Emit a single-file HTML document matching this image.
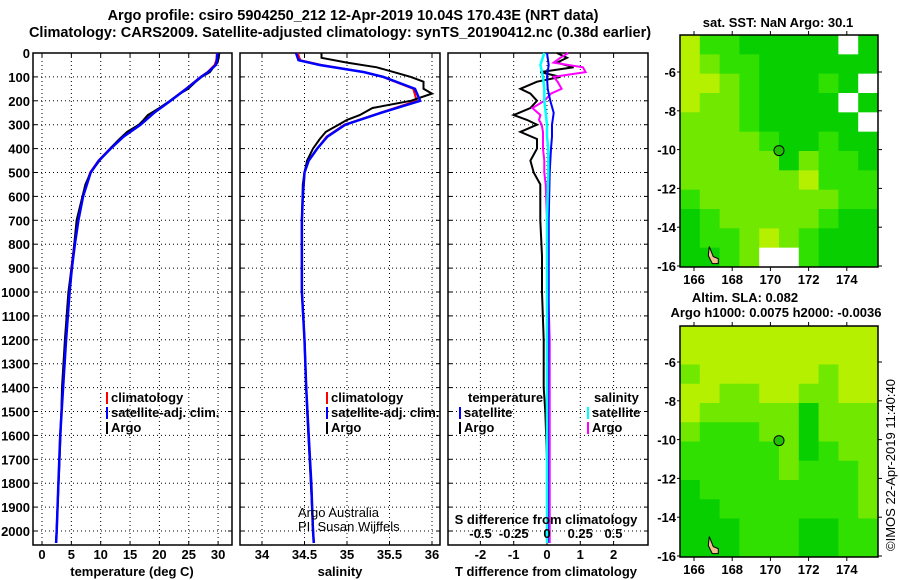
<!DOCTYPE html>
<html><head><meta charset="utf-8">
<style>
html,body{margin:0;padding:0;background:#fff;}
svg{display:block;font-family:"Liberation Sans",Arial,sans-serif;}
.t{font-weight:bold;font-size:14.5px;fill:#000;}
.s{font-weight:bold;font-size:13px;fill:#000;}
</style></head>
<body>
<svg id="fig" width="900" height="580" viewBox="0 0 900 580"></svg>
<script>
// ---------- data ----------
const depthTicks=[0,100,200,300,400,500,600,700,800,900,1000,1100,1200,1300,1400,1500,1600,1700,1800,1900,2000];
const tempTicks=[0,5,10,15,20,25,30];
const salTicks=[34,34.5,35,35.5,36];
const tdiffTicks=[-2,-1,0,1,2];
const sdiffTicks=["-0.5","-0.25","0","0.25","0.5"];
const sdiffTickVals=[-0.5,-0.25,0,0.25,0.5];
const lonTicks=[166,168,170,172,174];
const latTicks=[-6,-8,-10,-12,-14,-16];

const climDepth=[0,30,50,80,100,150,200,250,300,350,400,450,500,600,700,800,900,1000,1200,1400,1600,1800,2000,2050];
const climTemp=[29.8,29.7,29.4,28.2,27,24.5,21.8,19,16.7,13.8,11.6,9.6,8.2,6.9,6.1,5.5,5.0,4.6,4.0,3.5,3.1,2.8,2.5,2.4];
const climSal=[34.42,34.45,34.7,35.2,35.42,35.78,35.82,35.39,34.97,34.76,34.65,34.55,34.5,34.48,34.47,34.47,34.47,34.47,34.5,34.52,34.55,34.58,34.6,34.61];
const satTemp=[29.9,29.8,29.6,28.3,27.1,24.6,21.9,19.1,16.8,13.9,11.7,9.7,8.3,7.0,6.2,5.6,5.1,4.7,4.1,3.6,3.1,2.8,2.5,2.4];
const satSal=[34.4,34.43,34.68,35.2,35.43,35.8,35.86,35.4,34.98,34.77,34.65,34.55,34.5,34.48,34.47,34.47,34.47,34.47,34.5,34.52,34.55,34.58,34.6,34.61];

const argoDepth=[0,20,40,60,80,100,120,150,170,200,230,260,280,300,330,360,400,450,500,550,700,850,1000,1200,1400,1500,1700,2050];
const argoTemp=[30.2,30.1,29.9,29.2,28.6,27.2,26.2,24.9,23.5,21.8,20,18,17.3,16.5,14.5,13.2,11.6,9.8,8.3,7.4,5.9,5.3,4.5,3.9,3.4,3.3,3.0,2.4];
const argoSal=[34.7,34.7,35.0,35.35,35.55,35.75,35.9,35.9,36.0,35.75,35.3,35.15,35.0,34.9,34.75,34.68,34.6,34.53,34.5,34.48,34.47,34.47,34.47,34.5,34.52,34.53,34.56,34.61];
const argoTdiff=[0.3,0.6,0.3,0.8,-0.2,0.4,-0.3,-0.8,-0.5,-0.3,-0.5,-1.0,-0.6,-0.3,-0.8,-0.3,-0.3,-0.5,-0.4,-0.2,-0.2,-0.15,-0.15,-0.1,-0.1,-0.05,0,0];
const argoSdiff=[0.16,0.1,0.05,0.27,0.29,0.05,0.08,0.11,0.03,-0.02,-0.11,-0.05,-0.06,-0.04,-0.03,-0.03,-0.03,-0.02,-0.02,-0.01,0.0,0.01,0.01,0.02,0.02,0.02,0.02,0.02];
const satTdiffDepth=[0,50,100,150,200,250,300,350,400,500,700,1000,1500,2050];
const satTdiff=[0.0,0.05,0.0,0.02,0.1,0.2,0.15,0.15,0.12,0.08,0.05,0.05,0.03,0.03];
const satSdiff=[-0.02,-0.05,-0.03,-0.02,-0.02,-0.01,0.0,0.0,0.01,0.01,0.0,0.0,0.0,0.0];

// map colour grids (rows north->south)
const sstGrid=["YggGGGGGWG","YLggGGGGGG","YYLgGGGgGW","YLLgGGGGWG","LLLgGGGGGW","LLLLgGGgGG","LLLLLGLggG","LLLLLLYggg","gLLLLLLLgg","GgLLLLLgGG","GggLYLgGGG","GGgLWWgGGG"];
const slaGrid=["YYYYYYYYYY","YYYYYYYYYY","LYYYYYYLYY","YYLLYYLLYY","YLLLLLGLLL","LgggLLGLLL","gggggLGgLL","gggggLgggL","GggggggggL","GGgggggggL","GGGgggGGgg","GGGgggGGgg"];
const palette={G:"#08d000",g:"#30e000",L:"#70e800",Y:"#b4f000",W:"#ffffff"};
const argoLon=170.45, argoLat=-10.05;

// ---------- helpers ----------
const NS="http://www.w3.org/2000/svg";
const svg=document.getElementById('fig');
function mk(tag,attrs,parent){const e=document.createElementNS(NS,tag);for(const k in attrs)e.setAttribute(k,attrs[k]);(parent||svg).appendChild(e);return e;}
function txt(x,y,s,cls,anchor,parent){const e=mk('text',{x:x,y:y,class:cls,'text-anchor':anchor||'middle'},parent);e.textContent=s;return e;}

const Y0=53, PY=0.239, PBOT=545;
const yD=d=>Y0+d*PY;
const xT=v=>42+v*5.87;
const xS=v=>262+(v-34)*85;
const xTd=v=>547+v*33.3;
const xSd=v=>547+v*133;

function panel(x0,x1,name,xticks,xf){
  const g=mk('g',{});
  
  
  depthTicks.forEach(d=>{if(d>0)mk('line',{x1:x0,x2:x1,y1:yD(d),y2:yD(d),stroke:'#000','stroke-width':1,'stroke-dasharray':'1,3'},g);
    mk('line',{x1:x0,x2:x0+4,y1:yD(d),y2:yD(d),stroke:'#000'},g);mk('line',{x1:x1-4,x2:x1,y1:yD(d),y2:yD(d),stroke:'#000'},g);});
  xticks.forEach(v=>{const x=xf(v);mk('line',{x1:x,x2:x,y1:Y0,y2:PBOT,stroke:'#000','stroke-dasharray':'1,3'},g);
    mk('line',{x1:x,x2:x,y1:PBOT,y2:PBOT-4,stroke:'#000'},g);mk('line',{x1:x,x2:x,y1:Y0,y2:Y0+4,stroke:'#000'},g);});
  mk('rect',{x:x0,y:Y0,width:x1-x0,height:PBOT-Y0,fill:'none',stroke:'#000','stroke-width':1.5},g);
  return g;
}
function line(depths,vals,xf,color,w,name,x0,x1){
  const pts=depths.map((d,i)=>Math.max(x0,Math.min(x1,xf(vals[i]))).toFixed(1)+','+yD(d).toFixed(1)).join(' ');
  const p=mk('polyline',{points:pts,fill:'none',stroke:color,'stroke-width':w});
  
  
}
function legendEntry(x,y,color,label,name){
  const g=mk('g',{});
  
  
  mk('rect',{x:x,y:y-10,width:2,height:12,fill:color},g);
  txt(x+5,y,label,'s','start',g);
}

// titles
const t1=txt(353,20,'Argo profile: csiro 5904250_212 12-Apr-2019 10.04S 170.43E (NRT data)','t');

const t2=txt(340,37,'Climatology: CARS2009. Satellite-adjusted climatology: synTS_20190412.nc (0.38d earlier)','t');


// panel 1 temperature
panel(33,232,'temperature-panel',tempTicks,xT);
depthTicks.forEach(d=>{const e=txt(30,yD(d)+5,String(d),'s','end');});
tempTicks.forEach(v=>{const e=txt(xT(v),559,String(v),'s');});
let at=txt(132,576,'temperature (deg C)','s');
line(climDepth,climTemp,xT,'#f00',2,'temp-climatology-line',33,232);
line(argoDepth,argoTemp,xT,'#000',2,'temp-argo-line',33,232);
line(climDepth,satTemp,xT,'#00f',2.5,'temp-satellite-line',33,232);
legendEntry(106,402,'#f00','climatology','legend-climatology');
legendEntry(106,417,'#00f','satellite-adj. clim.','legend-satellite');
legendEntry(106,432,'#000','Argo','legend-argo');

// panel 2 salinity
panel(240,440,'salinity-panel',salTicks,xS);
salTicks.forEach(v=>{const e=txt(xS(v),559,String(v),'s');});
at=txt(340,576,'salinity','s');
line(climDepth,climSal,xS,'#f00',2,'sal-climatology-line',240,440);
line(argoDepth,argoSal,xS,'#000',2,'sal-argo-line',240,440);
line(climDepth,satSal,xS,'#00f',2.5,'sal-satellite-line',240,440);
legendEntry(326,402,'#f00','climatology','legend-climatology-sal');
legendEntry(326,417,'#00f','satellite-adj. clim.','legend-satellite-sal');
legendEntry(326,432,'#000','Argo','legend-argo-sal');
let n=txt(298,517,'Argo Australia','s','start');n.style.fontWeight='normal';
n=txt(298,531,'PI: Susan Wijffels','s','start');n.style.fontWeight='normal';

// panel 3 differences
panel(448,648,'difference-panel',tdiffTicks,xTd);
tdiffTicks.forEach(v=>{const e=txt(xTd(v),559,String(v),'s');});
at=txt(546,576,'T difference from climatology','s');
line(argoDepth,argoTdiff,xTd,'#000',2,'tdiff-argo-line',448,648);
line(argoDepth,argoSdiff,xSd,'#f0f',2,'sdiff-argo-line',448,648);
line(satTdiffDepth,satTdiff,xTd,'#00f',2,'tdiff-satellite-line',448,648);
line(satTdiffDepth,satSdiff,xSd,'#0ff',2.5,'sdiff-satellite-line',448,648);
at=txt(546,524,'S difference from climatology','s');
sdiffTickVals.forEach((v,i)=>{const e=txt(xSd(v),538,sdiffTicks[i],'s');});
at=txt(468,402,'temperature','s','start');
legendEntry(459,417,'#00f','satellite','legend-tdiff-satellite');
legendEntry(459,432,'#000','Argo','legend-tdiff-argo');
at=txt(594,402,'salinity','s','start');
legendEntry(587,417,'#0ff','satellite','legend-sdiff-satellite');
legendEntry(587,432,'#f0f','Argo','legend-sdiff-argo');

// maps
function map(x0,y0,x1,y1,latm6,latm16,grid,name){
  const g=mk('g',{});
  
  
  const rows=grid.length, cols=grid[0].length, cw=(x1-x0)/cols, ch=(y1-y0)/rows;
  grid.forEach((r,i)=>{for(let j=0;j<cols;j++){mk('rect',{x:x0+j*cw,y:y0+i*ch,width:cw+0.5,height:ch+0.5,fill:palette[r[j]]},g);}});
  const xL=lon=>694+(lon-166)*19.1;
  const yL=lat=>latm6+(lat+6)*(latm16-latm6)/-10;
  mk('rect',{x:x0,y:y0,width:x1-x0,height:y1-y0,fill:'none',stroke:'#000','stroke-width':1.5},g);
  lonTicks.forEach(v=>{mk('line',{x1:xL(v),x2:xL(v),y1:y1,y2:y1+4,stroke:'#000'},g);mk('line',{x1:xL(v),x2:xL(v),y1:y0,y2:y0-4,stroke:'#000'},g);
    const e=txt(xL(v),y1+17,String(v),'s','middle',g);});
  latTicks.forEach(v=>{mk('line',{x1:x1,x2:x1+4,y1:yL(v),y2:yL(v),stroke:'#000'},g);mk('line',{x1:x0-3,x2:x0,y1:yL(v),y2:yL(v),stroke:'#000'},g);
    const e=txt(x0-4,yL(v)+5,String(v),'s','end',g);});
  mk('path',{d:`M${xL(166.8)} ${yL(-15)} l4 10 l5 2 l0 5 l-6 0 l-4 -8 z`,fill:'#f5c090',stroke:'#000','stroke-width':1},g);
  const c=mk('circle',{cx:xL(argoLon),cy:yL(argoLat),r:5,fill:'#20c000',stroke:'#000','stroke-width':1},g);
  
  
}
map(680,35,878,267,72,266,sstGrid,'sst-map');
map(680,326,878,557,362,556,slaGrid,'sla-map');
at=txt(778,27,'sat. SST: NaN Argo: 30.1','s');
at=txt(745,302,'Altim. SLA: 0.082','s');
at=txt(776,317,'Argo h1000: 0.0075 h2000: -0.0036','s');
at=txt(0,0,'©IMOS 22-Apr-2019 11:40:40','s');at.setAttribute('transform','translate(895,465) rotate(-90)');at.style.fontWeight='normal';

</script>
</body></html>
